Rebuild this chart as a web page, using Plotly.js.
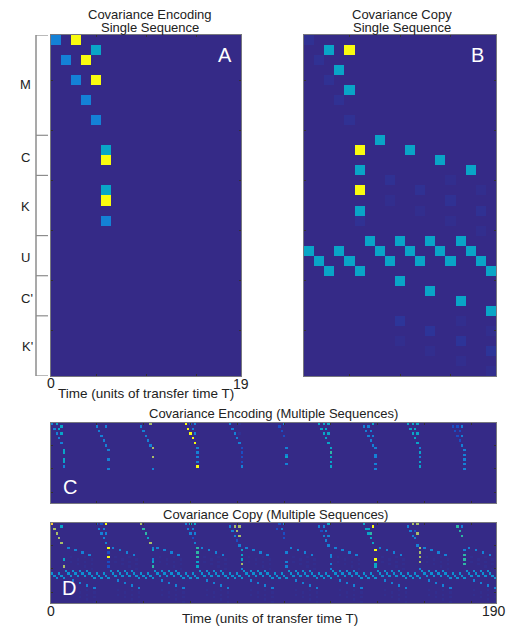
<!DOCTYPE html>
<html><head><meta charset="utf-8">
<script src="https://cdn.plot.ly/plotly-3.0.1.min.js"></script>
<style>html,body{margin:0;padding:0;background:#fff}</style></head>
<body><div id="chart" style="width:511px;height:627px"></div>
<script>
// Value levels (0 = background, 1 = yellow)
const F=0.02, f=0.012, S=0.1, B=0.25, T=0.38, G=0.5, O=0.68, L=0.85, Y=1;

const groupNames = ["M","C","K","U","C'","K'"];
const groupEdges = [0.5,10.5,14.5,20.5,24.5,28.5,34.5];

// [row, column, value]
const panelA = [[1,1,B],[1,3,Y],[2,5,T],[3,2,B],[3,4,Y],[5,3,B],[5,5,Y],[7,4,B],[9,5,B],
  [12,6,T],[13,6,Y],[16,6,T],[17,6,Y],[19,6,B]];

const panelB = [[1,1,F],[2,3,T],[2,5,Y],[3,2,F],[4,4,T],[5,3,F],[6,5,T],[7,4,F],[9,5,F],
  [11,8,T],[12,6,Y],[12,11,T],[13,14,T],[14,6,T],[14,17,T],
  [15,9,F],[15,15,f],[16,6,Y],[16,12,F],[16,18,f],[17,9,f],[17,15,F],[18,6,T],[18,12,f],[18,18,F],
  [19,6,F],[19,15,f],[20,18,f],
  [21,7,T],[21,10,T],[21,13,T],[21,16,T],
  [22,1,T],[22,4,T],[22,8,T],[22,11,T],[22,14,T],[22,17,T],
  [23,2,T],[23,5,T],[23,9,T],[23,12,T],[23,15,T],[23,18,T],
  [24,3,T],[24,6,T],[24,19,T],
  [25,10,T],[26,13,T],[27,16,T],[28,19,T],
  [29,10,.03],[29,16,f],[30,13,.028],[30,19,f],[31,10,f],[31,16,.028],[32,13,f],[32,19,.028],[33,16,f],[34,19,f]];

// Panel C, one list per sequence; columns 1..19 inside the sequence
const cSeq1 = [[1,1,B],[1,3,T],[2,5,T],[3,2,B],[3,4,T],[5,3,B],[5,5,T],[7,4,B],[9,5,B],[12,6,T],[13,6,T],[16,6,T],[17,6,T],[19,6,B]];
const cSeq2 = [[2,1,B],[2,5,B],[4,2,B],[6,3,B],[8,4,B],[10,5,B],[12,6,B],[16,6,B],[20,6,B]];
const cSeq3 = [[1,5,O],[2,1,B],[4,2,B],[6,3,B],[8,4,B],[10,5,B],[11,6,O],[15,6,O],[20,6,B]];
const cSeq4 = [[1,1,Y],[1,3,S],[1,5,B],[3,2,Y],[3,4,B],[5,3,Y],[5,5,B],[7,4,Y],[9,5,Y],[11,6,B],[13,6,B],[15,6,B],[17,6,B],[19,6,Y]];
const cSeq5 = [[1,1,B],[1,5,F],[3,2,B],[5,3,B],[5,5,F],[7,4,B],[9,5,B],[11,6,S],[13,6,S],[15,6,S],[17,6,S],[19,6,B]];
const cSeq6 = [[1,5,B],[2,3,S],[4,4,S],[6,5,S],[11,6,B],[14,6,B],[15,6,T],[18,6,B]];
const cSeq7 = [[1,1,T],[1,3,T],[1,5,T],[3,2,T],[3,4,T],[5,3,T],[5,5,T],[7,4,T],[9,5,T],[11,6,T],[13,6,G],[15,6,T],[17,6,T],[19,6,T]];
const cSeq8 = [[1,5,T],[2,1,B],[2,3,B],[4,2,B],[4,4,B],[6,3,B],[6,5,B],[8,4,B],[10,5,B],[11,6,B],[14,6,B],[15,6,B],[18,6,B],[20,6,B]];
const cSeq9 = [[1,1,T],[1,3,T],[1,5,T],[3,2,T],[3,4,T],[5,3,T],[5,5,T],[7,4,T],[9,5,T],[11,6,B],[13,6,T],[15,6,B],[17,6,T],[19,6,T]];
const cSeq10 = [[2,1,S],[2,3,S],[2,5,B],[4,2,S],[4,4,S],[6,3,S],[6,5,B],[8,4,S],[10,5,B],[12,6,B],[14,6,B],[16,6,B],[18,6,B],[20,6,B]];
const cSeqs = [cSeq1,cSeq2,cSeq3,cSeq4,cSeq5,cSeq6,cSeq7,cSeq8,cSeq9,cSeq10];

// Panel D, the part that differs from sequence to sequence
const dSeq1 = [[1,1,L],[2,5,T],[3,2,O],[5,3,O],[7,4,O],[9,5,O],[16,6,T],[19,6,O]];
const dSeq2 = [[1,1,S],[1,3,S],[1,5,Y],[3,2,B],[3,4,B],[5,3,B],[5,5,B],[7,4,B],[9,5,B],[11,6,Y],[13,6,S],[15,6,Y],[17,6,S],[19,6,S]];
const dSeq3 = [[1,1,O],[3,2,G],[5,3,G],[7,4,T],[9,5,O],[11,6,B],[12,6,T],[16,6,B],[17,6,T],[19,6,G]];
const dSeq4 = [[1,1,B],[1,3,T],[1,5,T],[3,2,B],[3,4,B],[5,3,B],[5,5,B],[7,4,S],[9,5,B],[11,6,G],[13,6,G],[15,6,G],[17,6,T],[19,6,T]];
const dSeq5 = [[2,1,B],[2,3,O],[2,5,O],[4,2,B],[4,4,O],[6,3,B],[6,5,O],[8,4,S],[10,5,B],[12,6,T],[14,6,T],[16,6,T],[18,6,O],[20,6,B]];
const dSeq6 = [[1,3,S],[1,5,B],[3,2,S],[3,4,B],[5,5,S],[7,5,S],[13,6,B],[17,6,B],[19,6,B]];
const dSeq7 = [[1,5,T],[2,1,B],[2,3,B],[4,2,S],[4,4,B],[6,3,B],[6,5,B],[8,4,B],[10,5,B],[14,6,B],[15,6,B],[18,6,B],[20,6,B]];
const dSeq8 = [[1,1,T],[2,5,Y],[3,2,T],[3,3,T],[5,3,T],[5,4,G],[7,4,T],[9,5,T],[12,6,Y],[16,6,Y],[18,6,T],[19,6,T]];
const dSeq9 = [[1,3,O],[1,5,O],[2,1,B],[4,2,B],[4,4,S],[5,5,O],[6,3,B],[7,4,B],[10,5,B],[11,6,O],[13,6,O],[15,6,O],[17,6,O],[20,6,B]];
const dSeq10 = [[2,3,G],[2,5,B],[4,4,G],[6,5,G],[12,6,B],[14,6,G],[16,6,G],[18,6,G]];
const dSeqs = [dSeq1,dSeq2,dSeq3,dSeq4,dSeq5,dSeq6,dSeq7,dSeq8,dSeq9,dSeq10];

// Panel D, the part seen again in every sequence
const dRepeat = [[11,8,B],[12,11,B],[13,14,B],[14,17,B],
  [15,9,f],[15,15,f],[16,12,f],[16,18,f],[17,9,f],[17,15,f],[18,12,f],[18,18,f],[19,15,f],[20,18,f],
  [21,7,.3],[21,10,.3],[21,13,.3],[21,16,.3],
  [22,1,.3],[22,4,.3],[22,8,.3],[22,11,.3],[22,14,.3],[22,17,.3],
  [23,2,.3],[23,5,.3],[23,9,.3],[23,12,.3],[23,15,.3],[23,18,.3],
  [24,3,.3],[24,6,.3],[24,19,.3],
  [25,10,B],[26,13,B],[27,16,B],[28,19,B],
  [29,10,f],[29,16,f],[30,13,f],[30,19,f],[31,10,f],[31,16,f],[32,13,f],[32,19,f],[33,16,f],[34,19,f]];

const seqLength = 19, rowCount = 34, seqCount = 10;
const parula = [[0,'#352a87'],[0.14,'#0f5cdd'],[0.25,'#1481d6'],[0.37,'#06a4ca'],[0.5,'#2eb7a4'],
  [0.62,'#87bf77'],[0.75,'#d1bb59'],[0.87,'#fec832'],[1,'#f9fb0e']];

function grid(cols, seqs){
  const z = Array.from({length:rowCount},()=>new Array(cols).fill(0));
  seqs.forEach((list,k)=>list.forEach(([r,c,v])=>{ z[r-1][k*seqLength+c-1]=v; }));
  return z;
}
const seq = n => Array.from({length:n},(_,i)=>i+1);
const W=511,H=627;
const px=x=>x/W, py=y=>1-y/H;

function hm(z,n,xa,ya){
  return {type:'heatmap',z,x:seq(n),y:seq(rowCount),xaxis:xa,yaxis:ya,colorscale:parula,zmin:0,zmax:1,
    showscale:false,zsmooth:false,hoverinfo:'skip'};
}
const dData = dSeqs.map(s=>s.concat(dRepeat));
const data = [
  hm(grid(seqLength,[panelA]),seqLength,'x','y'),
  hm(grid(seqLength,[panelB]),seqLength,'x2','y2'),
  hm(grid(seqLength*seqCount,cSeqs),seqLength*seqCount,'x3','y3'),
  hm(grid(seqLength*seqCount,dData),seqLength*seqCount,'x4','y4')
];

function xax(l,r,anchor,n,ticks){
  return {domain:[px(l),px(r)],anchor,range:[0.5,n+0.5],tickvals:ticks,ticks:'inside',ticklen:2,tickwidth:1,
    tickcolor:'#33302f',showticklabels:false,showgrid:false,zeroline:false,showline:true,linecolor:'#77777f',linewidth:1,mirror:'ticks'};
}
function yax(t,b,anchor,ticks){
  return {domain:[py(b),py(t)],anchor,range:[rowCount+0.5,0.5],tickvals:ticks,ticks:'inside',ticklen:2,tickwidth:1,
    tickcolor:'#33302f',showticklabels:false,showgrid:false,zeroline:false,showline:true,linecolor:'#77777f',linewidth:1,mirror:'ticks'};
}
const font='"Liberation Sans", Arial, sans-serif';
function note(x,y,text,size,color){
  return {xref:'paper',yref:'paper',x:px(x),y:py(y),text,showarrow:false,xanchor:'center',yanchor:'middle',
    font:{family:font,size:size||12,color:color||'#222'}};
}
const annotations=[
  note(149.5,14.5,'Covariance Encoding',13), note(149.5,27,'Single Sequence',13),
  note(402,14.5,'Covariance Copy',13), note(402,27,'Single Sequence',13),
  note(225,55,'A',20,'#fff'), note(477.5,55,'B',20,'#fff'),
  note(69.5,487,'C',20,'#fff'), note(68.5,587.5,'D',20,'#fff'),
  note(273,413,'Covariance Encoding (Multiple Sequences)',13),
  note(275,514,'Covariance Copy (Multiple Sequences)',13),
  note(51,383,'0',14), note(241,384,'19',14),
  note(146,393,'Time (units of transfer time T)',13.5),
  note(51,611,'0',14), note(270,618,'Time (units of transfer time T)',13.5), note(494,611,'190',14),
  note(25.5,85,groupNames[0],13), note(25.5,157,groupNames[1],13), note(25.5,206,groupNames[2],13),
  note(25.5,257,groupNames[3],13), note(27,298,groupNames[4],13), note(27,346.5,groupNames[5],13)
];
const shapes=[{type:'line',xref:'paper',yref:'y',x0:px(36),x1:px(36),y0:0.5,y1:34.5,line:{color:'#8c8c8c',width:1.5}}]
  .concat(groupEdges.map(e=>({type:'line',xref:'paper',yref:'y',x0:px(36),x1:px(48),y0:e,y1:e,line:{color:'#8c8c8c',width:1.2}})));

const layout={width:W,height:H,margin:{l:0,r:0,t:0,b:0},paper_bgcolor:'#fff',plot_bgcolor:'#352a87',showlegend:false,
  xaxis:xax(51,241,'y',19,[5,10,15]), yaxis:yax(35,376,'x',[5,10,15,20,25,30]),
  xaxis2:xax(304,496,'y2',19,[5,10,15]), yaxis2:yax(35,376,'x2',[5,10,15,20,25,30]),
  xaxis3:xax(51,496,'y3',190,[20,40,60,80,100,120,140,160,180]), yaxis3:yax(423,503,'x3',[10,20,30]),
  xaxis4:xax(51,496,'y4',190,[20,40,60,80,100,120,140,160,180]), yaxis4:yax(523,603,'x4',[10,20,30]),
  annotations,shapes};
Plotly.newPlot('chart',data,layout,{displayModeBar:false,staticPlot:true});
</script></body></html>
